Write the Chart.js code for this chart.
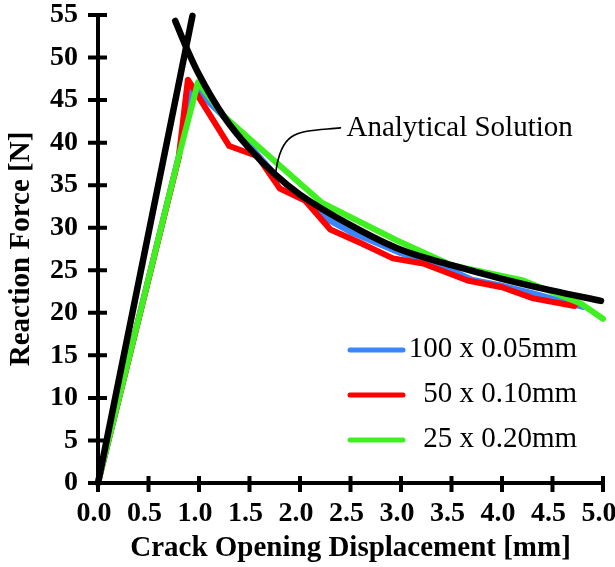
<!DOCTYPE html>
<html>
<head>
<meta charset="utf-8">
<script src="https://cdn.jsdelivr.net/npm/chart.js@4.4.1/dist/chart.umd.min.js"></script>
<style>
  html, body { margin: 0; padding: 0; background: #fff; }
  #wrap { width: 615px; height: 567px; }
</style>
</head>
<body>
<div id="wrap"><canvas id="forceChart"></canvas></div>
<script>
// values (displacement in mm, force in N)
const xTickValues = [0, 0.5, 1, 1.5, 2, 2.5, 3, 3.5, 4, 4.5, 5];
const xTickLabels = ['0.0', '0.5', '1.0', '1.5', '2.0', '2.5', '3.0', '3.5', '4.0', '4.5', '5.0'];
const yTickValues = [0, 5, 10, 15, 20, 25, 30, 35, 40, 45, 50, 55];

const seriesNames = ['100 x 0.05mm', '50 x 0.10mm', '25 x 0.20mm'];

const fineX = [0, 0.8, 0.92, 1.25, 1.75, 2.0, 2.3, 2.5, 3.0, 3.5, 3.7, 4.0, 4.3, 4.8];
const fineY = [0, 38.4, 46.8, 43.0, 36.3, 33.7, 30.8, 29.5, 27.0, 25.0, 23.9, 23.2, 22.3, 20.7];

const midX = [0, 0.8, 0.89, 1.3, 1.58, 1.8, 2.05, 2.3, 2.6, 2.92, 3.22, 3.66, 4.0, 4.31, 4.72];
const midY = [0, 38.3, 47.4, 39.6, 38.4, 34.6, 33.2, 29.8, 28.2, 26.4, 25.8, 23.8, 23.0, 21.7, 20.8];

const coarseX = [0, 0.8, 0.99, 1.24, 1.77, 2.22, 2.96, 3.5, 3.66, 4.21, 4.78, 5.0];
const coarseY = [0, 38.4, 47.1, 43.2, 37.6, 32.9, 28.5, 25.6, 25.2, 23.8, 21.1, 19.3];

// analytical solution: linear loading branch and softening branch
const elasticX = [0, 0.935];
const elasticY = [0, 54.9];
const softX = [0.765, 0.87, 1.0, 1.25, 1.5, 1.75, 2.0, 2.5, 3.0, 3.5, 4.0, 4.5, 4.98];
const softY = [54.3, 51.3, 48.0, 43.0, 39.3, 36.3, 33.9, 30.3, 27.4, 25.6, 24.0, 22.6, 21.4];

const noteText = 'Analytical Solution';
const noteAt = [2.46, 40.8];     // start of the label baseline
const noteTarget = [1.76, 36.5]; // where the leader touches the curve

const toPoints = (xs, ys) => xs.map((x, i) => ({ x: x, y: ys[i] }));

const serif = '"Liberation Serif", "Times New Roman", Times, serif';

function lineSet(label, xs, ys, color, order, width) {
  return {
    label: label,
    data: toPoints(xs, ys),
    borderColor: color,
    backgroundColor: color,
    borderWidth: width,
    pointRadius: 0,
    borderCapStyle: 'round',
    borderJoinStyle: 'round',
    tension: 0,
    clip: false,
    order: order
  };
}

// keep chart.js from reserving room for overhanging tick labels
function noPad(s) {
  s.paddingTop = 0;
  s.paddingBottom = 0;
  s.paddingLeft = 0;
  s.paddingRight = 0;
}

const axesAndTicks = {
  id: 'axesAndTicks',
  afterDraw(chart) {
    const { ctx, chartArea: a, scales: { x, y } } = chart;
    ctx.save();
    ctx.strokeStyle = '#000';
    ctx.lineWidth = 4;
    ctx.lineCap = 'butt';
    ctx.beginPath();
    ctx.moveTo(a.left, a.top - 2);
    ctx.lineTo(a.left, a.bottom + 9);
    ctx.moveTo(a.left - 10, a.bottom);
    ctx.lineTo(a.right + 2, a.bottom);
    xTickValues.forEach(v => {
      const px = x.getPixelForValue(v);
      ctx.moveTo(px, a.bottom - 7);
      ctx.lineTo(px, a.bottom + 9);
    });
    yTickValues.forEach(v => {
      const py = y.getPixelForValue(v);
      ctx.moveTo(a.left - 10, py);
      ctx.lineTo(a.left + 9, py);
    });
    ctx.stroke();

    // annotation with leader
    const tx = x.getPixelForValue(noteAt[0]);
    const ty = y.getPixelForValue(noteAt[1]);
    const ex = x.getPixelForValue(noteTarget[0]);
    const ey = y.getPixelForValue(noteTarget[1]);
    ctx.lineWidth = 1.6;
    ctx.lineCap = 'round';
    ctx.beginPath();
    ctx.moveTo(tx - 6, ty - 8);
    ctx.bezierCurveTo(tx - 47, ty - 4, tx - 65, ty - 8, ex, ey);
    ctx.stroke();
    ctx.fillStyle = '#000';
    ctx.font = '29px ' + serif;
    ctx.textAlign = 'left';
    ctx.textBaseline = 'alphabetic';
    ctx.fillText(noteText, tx, ty);

    // legend
    const right = a.right - 26;
    ctx.textAlign = 'right';
    ctx.lineWidth = 5;
    for (let i = 0; i < seriesNames.length; i++) {
      const ds = chart.data.datasets[i];
      const rowY = a.top + 335 + i * 45;
      ctx.strokeStyle = ds.borderColor;
      ctx.beginPath();
      ctx.moveTo(a.left + 252, rowY);
      ctx.lineTo(a.left + 305, rowY);
      ctx.stroke();
      ctx.fillText(seriesNames[i], right, rowY + 6.5);
    }
    ctx.restore();
  }
};

new Chart(document.getElementById('forceChart'), {
  type: 'line',
  data: {
    datasets: [
      lineSet(seriesNames[0], fineX, fineY, '#3a86ff', 3, 6),
      lineSet(seriesNames[1], midX, midY, '#ff0000', 2, 6),
      lineSet(seriesNames[2], coarseX, coarseY, '#3ef020', 1, 6),
      lineSet('Analytical', elasticX, elasticY, '#000000', 0, 6.5),
      Object.assign(lineSet('Analytical', softX, softY, '#000000', 0, 6.5),
        { tension: 0.4, cubicInterpolationMode: 'monotone' })
    ]
  },
  options: {
    responsive: true,
    maintainAspectRatio: false,
    animation: false,
    layout: { padding: { top: 15, right: 12, left: 0, bottom: 0 } },
    plugins: { legend: { display: false }, tooltip: { enabled: false } },
    scales: {
      x: {
        type: 'linear',
        min: 0,
        max: 5,
        afterFit: s => { s.height = 84; noPad(s); },
        afterBuildTicks: s => { s.ticks = xTickValues.map(v => ({ value: v })); },
        grid: { display: false, drawTicks: false },
        border: { display: false },
        ticks: {
          color: '#000',
          padding: 14,
          labelOffset: -4,
          maxRotation: 0,
          font: { family: serif, size: 28, weight: 'bold' },
          callback: v => xTickLabels[xTickValues.indexOf(v)]
        },
        title: {
          display: true,
          text: 'Crack Opening Displacement [mm]',
          color: '#000',
          padding: { top: 0, bottom: 1 },
          font: { family: serif, size: 29, weight: 'bold' }
        }
      },
      y: {
        min: 0,
        max: 55,
        afterFit: s => { s.width = 98; noPad(s); },
        afterBuildTicks: s => { s.ticks = yTickValues.map(v => ({ value: v })); },
        grid: { display: false, drawTicks: false },
        border: { display: false },
        ticks: {
          color: '#000',
          padding: 20,
          font: { family: serif, size: 28, weight: 'bold' }
        },
        title: {
          display: true,
          text: 'Reaction Force [N]',
          color: '#000',
          padding: { top: 4, bottom: 0 },
          font: { family: serif, size: 29, weight: 'bold' }
        }
      }
    }
  },
  plugins: [axesAndTicks]
});
</script>
</body>
</html>
